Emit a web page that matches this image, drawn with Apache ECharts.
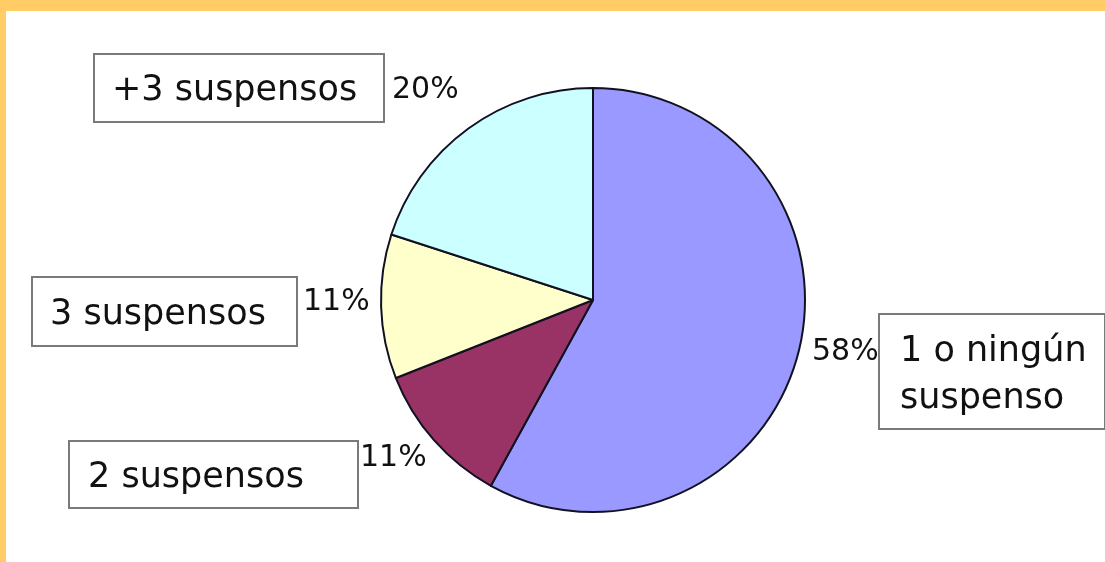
<!DOCTYPE html>
<html>
	<head>
		<meta charset="utf-8" />
		<title></title>
		<style type="text/css">
			body { margin: 0; background: #fff; }
			#chart { width: 1105px; height: 562px; }
		</style>
	</head>
	<body>
		<div id="chart"></div>
	</body>
</html>
<script src="https://cdn.jsdelivr.net/npm/echarts@6/dist/echarts.min.js"></script>
<script>
	// datos
	var nombres = ['1 o ningún\nsuspenso', '2 suspensos', '3 suspensos', '+3 suspensos'];
	var valores = [58, 11, 11, 20];
	var colores = ['#9999ff', '#993366', '#ffffcc', '#ccffff'];

	// posicion de las etiquetas (cajas con nombre y porcentajes)
	var cajas = [
		{x: 880, y: 315, w: 224, h: 113, pad: [13, 10, 5, 20]},
		{x: 70, y: 442, w: 287, h: 65, pad: [12, 10, 12, 18]},
		{x: 33, y: 278, w: 263, h: 67, pad: [13, 10, 13, 17]},
		{x: 95, y: 55, w: 288, h: 66, pad: [12, 10, 14, 17]}
	];
	var porcentajes = [
		{x: 812, y: 352},
		{x: 360, y: 458},
		{x: 303, y: 302},
		{x: 392, y: 90}
	];

	var myChart = echarts.init(document.getElementById('chart'));

	var datos = [];
	var datosCaja = [];
	for (var i = 0; i < valores.length; i++) {
		datos.push({name: nombres[i], value: valores[i], itemStyle: {color: colores[i]}});
		var c = cajas[i];
		datosCaja.push({
			name: nombres[i],
			value: valores[i],
			label: {
				width: c.w - c.pad[1] - c.pad[3],
				height: c.h - c.pad[0] - c.pad[2],
				padding: c.pad
			}
		});
	}

	var options = {
		animation: false,
		backgroundColor: '#fff',
		graphic: [
			{type: 'rect', left: 0, top: 0, shape: {width: 1105, height: 11}, style: {fill: '#ffcc66'}},
			{type: 'rect', left: 0, top: 0, shape: {width: 6, height: 562}, style: {fill: '#ffcc66'}}
		],
		series: [
			{
				type: 'pie',
				center: [593, 300],
				radius: 212,
				startAngle: 90,
				clockwise: true,
				silent: true,
				data: datos,
				itemStyle: {
					borderColor: '#111122',
					borderWidth: 2
				},
				label: {
					show: true,
					formatter: '{c}%',
					fontFamily: 'DejaVu Sans',
					fontSize: 30,
					color: '#111'
				},
				labelLine: {show: false},
				labelLayout: function (p) {
					var pos = porcentajes[p.dataIndex];
					return {x: pos.x, y: pos.y, align: 'left', verticalAlign: 'middle'};
				}
			},
			{
				type: 'pie',
				center: [593, 300],
				radius: 212,
				startAngle: 90,
				silent: true,
				z: 3,
				data: datosCaja,
				itemStyle: {
					color: 'rgba(0,0,0,0)',
					borderWidth: 0
				},
				label: {
					show: true,
					formatter: '{b}',
					fontFamily: 'DejaVu Sans',
					fontSize: 35,
					lineHeight: 47,
					color: '#111',
					align: 'left',
					verticalAlign: 'middle',
					backgroundColor: '#fff',
					borderColor: '#7a7a7a',
					borderWidth: 2
				},
				labelLine: {show: false},
				labelLayout: function (p) {
					var c = cajas[p.dataIndex];
					return {x: c.x, y: c.y, align: 'left', verticalAlign: 'top'};
				}
			}
		]
	};

	myChart.setOption(options);
</script>
